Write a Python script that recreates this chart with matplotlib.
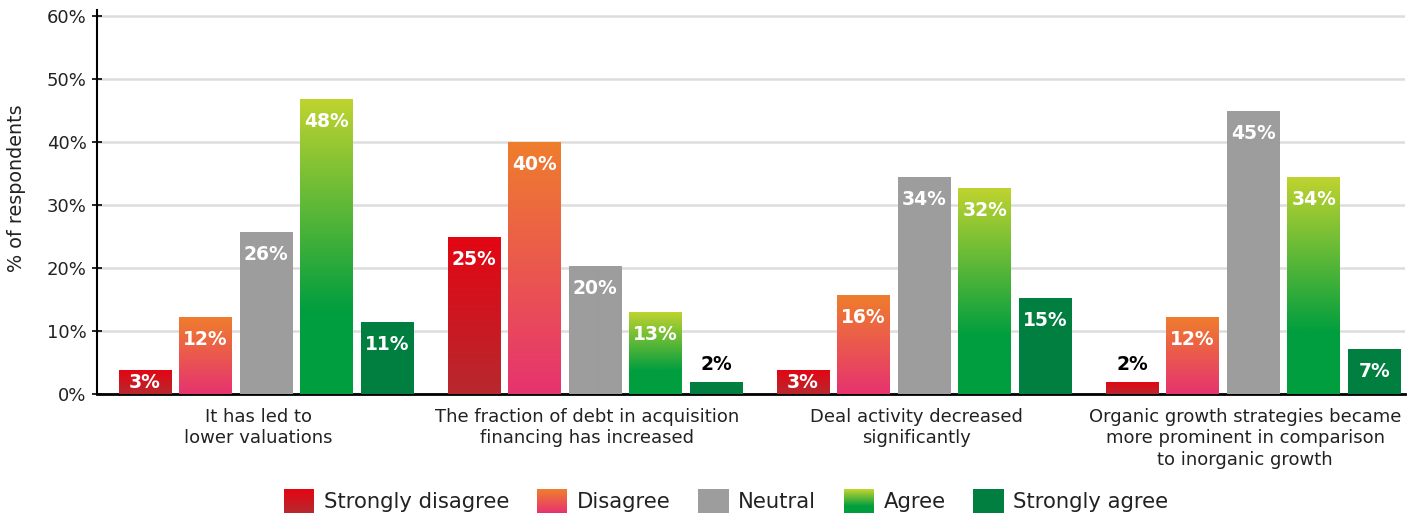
import numpy as np
import matplotlib
matplotlib.use("Agg")
import matplotlib.pyplot as plt
import matplotlib.transforms as mtransforms
from matplotlib.colors import LinearSegmentedColormap
from matplotlib.legend_handler import HandlerBase
from matplotlib.patches import Rectangle

# data
CATEGORIES = [
    "It has led to\nlower valuations",
    "The fraction of debt in acquisition\nfinancing has increased",
    "Deal activity decreased\nsignificantly",
    "Organic growth strategies became\nmore prominent in comparison\nto inorganic growth",
]
SERIES = ["Strongly disagree", "Disagree", "Neutral", "Agree", "Strongly agree"]

# bar heights as drawn (%)
HEIGHTS = {
    "Strongly disagree": [3.8, 24.8, 3.8, 1.9],
    "Disagree":          [12.2, 40.0, 15.7, 12.2],
    "Neutral":           [25.6, 20.2, 34.4, 44.9],
    "Agree":             [46.8, 12.9, 32.7, 34.4],
    "Strongly agree":    [11.4, 1.9, 15.1, 7.1],
}
# printed labels
LABELS = {
    "Strongly disagree": ["3%", "25%", "3%", "2%"],
    "Disagree":          ["12%", "40%", "16%", "12%"],
    "Neutral":           ["26%", "20%", "34%", "45%"],
    "Agree":             ["48%", "13%", "32%", "34%"],
    "Strongly agree":    ["11%", "2%", "15%", "7%"],
}
YTICKS = [0, 10, 20, 30, 40, 50, 60]

# colour stops (bottom -> top) for each series
GRADIENTS = {
    "Strongly disagree": [(0.0, "#b7282f"), (1.0, "#e30613")],
    "Disagree":          [(0.0, "#e6336f"), (1.0, "#ef7d2d")],
    "Neutral":           [(0.0, "#9d9d9d"), (1.0, "#9d9d9d")],
    "Agree":             [(0.0, "#009e3f"), (0.28, "#009e3f"), (1.0, "#bfd32f")],
    "Strongly agree":    [(0.0, "#007f40"), (1.0, "#007f40")],
}
CMAPS = {k: LinearSegmentedColormap.from_list(k, v) for k, v in GRADIENTS.items()}

plt.rcParams["font.family"] = ["DejaVu Sans"]
TEXT_COLOR = "#222222"


class GradientHandler(HandlerBase):
    def __init__(self, cmap, n=24):
        super().__init__()
        self.cmap = cmap
        self.n = n

    def create_artists(self, legend, orig_handle, xdescent, ydescent,
                       width, height, fontsize, trans):
        arts = []
        for i in range(self.n):
            y0 = -ydescent + height * i / self.n
            c = self.cmap(i / (self.n - 1))
            arts.append(Rectangle((-xdescent, y0), width, height / self.n * 1.05,
                                  facecolor=c, edgecolor="none", transform=trans))
        return arts


def main():
    fig = plt.figure(figsize=(14.21, 5.14), dpi=100)
    ax = fig.add_axes([0.0683, 0.2335, 0.9205, 0.7476])

    x = np.arange(len(CATEGORIES))
    step, width = 0.184, 0.161

    handles = []
    for i, name in enumerate(SERIES):
        pos = x + (i - 2) * step
        bars = ax.bar(pos, HEIGHTS[name], width, color=CMAPS[name](0.5),
                      zorder=2, linewidth=0)
        handles.append(bars)
        grad = np.linspace(0, 1, 256).reshape(-1, 1)
        for b in bars:
            x0, w, h = b.get_x(), b.get_width(), b.get_height()
            ax.imshow(grad, cmap=CMAPS[name], extent=(x0, x0 + w, 0, h),
                      origin="lower", aspect="auto", zorder=3, interpolation="bilinear")
        for xp, h, lab in zip(pos, HEIGHTS[name], LABELS[name]):
            if h < 2.5:
                ax.text(xp, h + 2.8, lab, ha="center", va="center",
                        fontsize=13.5, fontweight="bold", color="black", zorder=4)
            else:
                yy = max(h - 3.5, h / 2)
                ax.text(xp, yy, lab, ha="center", va="center",
                        fontsize=13.5, fontweight="bold", color="white", zorder=4)

    ax.set_xlim(-0.514, 3.462)
    ax.set_ylim(0, 61)
    ax.set_yticks(YTICKS)
    ax.set_yticklabels([f"{v}%" for v in YTICKS], fontsize=13, color=TEXT_COLOR)
    ax.set_xticks(x)
    ax.set_xticklabels(CATEGORIES, fontsize=13, color=TEXT_COLOR, linespacing=1.25)
    ax.tick_params(axis="x", length=0, pad=10)
    ax.tick_params(axis="y", direction="inout", length=7, width=1.2, pad=4)
    # the reference's category labels sit a little left of the group centres
    shift = mtransforms.ScaledTranslation(-8 / 100, 0, fig.dpi_scale_trans)
    for lbl in ax.get_xticklabels():
        lbl.set_transform(lbl.get_transform() + shift)

    ax.set_axisbelow(True)
    ax.grid(axis="y", color="#dddddd", linewidth=1.8, zorder=0)
    for s in ["top", "right"]:
        ax.spines[s].set_visible(False)
    ax.spines["left"].set_linewidth(1.5)
    ax.spines["bottom"].set_linewidth(2)

    ax.set_ylabel("% of respondents", fontsize=13.8, color=TEXT_COLOR)
    ax.yaxis.set_label_coords(-0.054, 0.536)

    handler_map = {h: GradientHandler(CMAPS[n]) for h, n in zip(handles, SERIES)}
    fig.legend(handles, SERIES, loc="center", bbox_to_anchor=(0.511, 0.025),
               ncol=5, frameon=False, fontsize=15.2, handler_map=handler_map,
               handlelength=1.45, handleheight=1.35, handletextpad=0.45,
               columnspacing=1.3, labelcolor=TEXT_COLOR)

    fig.savefig("out.png", dpi=100, facecolor="white")
    plt.close(fig)


if __name__ == "__main__":
    main()
